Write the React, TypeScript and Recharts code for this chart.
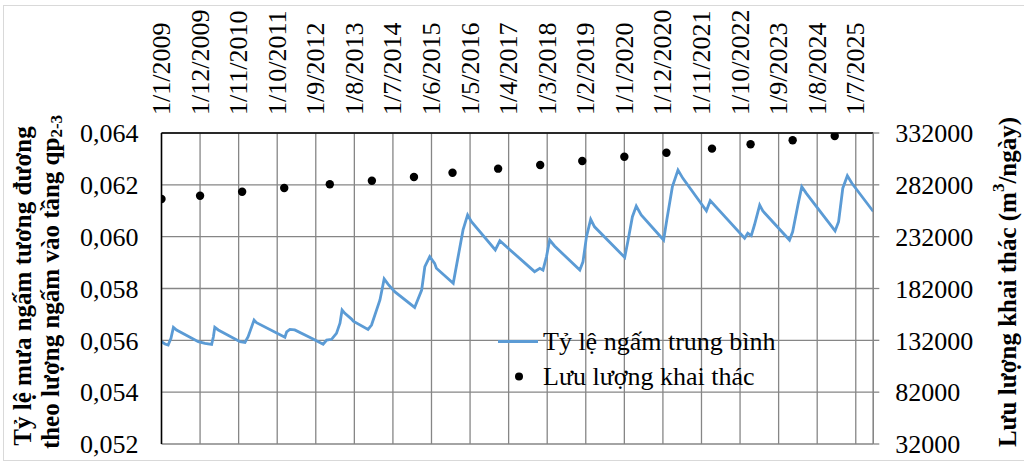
import React from 'react';
import { ComposedChart, Line, Scatter, XAxis, YAxis, CartesianGrid, Legend } from 'recharts';

const FONT = '"Liberation Serif", "Times New Roman", serif';
const BLUE = '#5B9BD5';
const GRID = '#868686';
const FS = 26;
const TITLE_FS = 25;

// Month index (0 = 1/1/2009) and value of the vertices of the average infiltration ratio line
const lineMonths = [
  0, 1.0, 1.9, 2.7, 3.4, 4.3, 10.5, 12.4, 14.3, 14.8, 15.2, 16.2, 22.4, 23.8, 24.7, 26.4, 27.1,
  35.2, 35.7, 36.6, 38.0, 42.8, 46.1, 47.1, 48.5, 49.9, 50.9, 51.5, 52.3, 54.2, 54.7, 58.9, 59.9,
  62.3, 63.5, 64.6, 66.5, 72.2, 74.2, 75.1, 76.5, 77.9, 78.4, 83.2, 84.6, 86.0, 87.3, 88.4, 95.2,
  96.5, 106.4, 107.9, 108.8, 109.8, 110.7, 112.1, 119.3, 120.2, 121.2, 122.4, 123.5, 132.1, 133.0,
  134.3, 135.4, 136.8, 143.2, 144.1, 145.7, 147.3, 148.7, 155.4, 156.5, 166.3, 167.2, 168.2, 169.1,
  170.6, 171.5, 179.1, 180.0, 181.5, 182.6, 183.9, 192.1, 193.1, 194.3, 195.6, 196.9, 203,
];
const lineValues = [
  0.05595, 0.05586, 0.05582, 0.05608, 0.0565, 0.0564, 0.05595, 0.05588, 0.05584, 0.05614, 0.0565, 0.0564, 0.05595, 0.05592, 0.05614, 0.05678, 0.05668,
  0.05612, 0.05633, 0.05642, 0.0564, 0.05608, 0.05585, 0.05601, 0.05604, 0.05627, 0.05666, 0.05717, 0.05704, 0.05682, 0.05674, 0.05642, 0.05659,
  0.05756, 0.05837, 0.05817, 0.05788, 0.05727, 0.05794, 0.05884, 0.05923, 0.05897, 0.05878, 0.0582, 0.05923, 0.06026, 0.06084, 0.06058, 0.05949,
  0.05984, 0.05865, 0.05878, 0.05871, 0.05923, 0.05987, 0.05964, 0.05871, 0.05903, 0.06, 0.06067, 0.06038, 0.0592, 0.05981,
  0.06077, 0.06118, 0.06084, 0.05987, 0.06064, 0.06193, 0.06257, 0.06225, 0.061, 0.06139, 0.05994, 0.06013, 0.06004, 0.06045,
  0.06122, 0.06099, 0.05987, 0.06019, 0.06122, 0.06193, 0.06167, 0.06022, 0.06058, 0.06187, 0.06235, 0.06206, 0.06097,
];

// Yearly abstraction discharge (m3/day)
const dotMonths = [0, 11, 23, 35, 48, 60, 72, 83, 96, 108, 120, 132, 144, 157, 168, 180, 192];
const dotValues = [
  268300, 271500, 275400, 279000, 282500, 286000, 289600, 293700, 297600, 301100, 305000, 309100,
  313000, 316900, 321100, 325000, 329100,
];

const xTickMonths = [0, 11, 22, 33, 44, 55, 66, 77, 88, 99, 110, 121, 132, 143, 154, 165, 176, 187, 198];
const xTickLabels = [
  '1/1/2009', '1/12/2009', '1/11/2010', '1/10/2011', '1/9/2012', '1/8/2013', '1/7/2014', '1/6/2015',
  '1/5/2016', '1/4/2017', '1/3/2018', '1/2/2019', '1/1/2020', '1/12/2020', '1/11/2021', '1/10/2022',
  '1/9/2023', '1/8/2024', '1/7/2025',
];
const leftTicks = [0.052, 0.054, 0.056, 0.058, 0.06, 0.062, 0.064];
const rightTicks = [32000, 82000, 132000, 182000, 232000, 282000, 332000];

const LINE_NAME = 'Tỷ lệ ngấm trung bình';
const DOT_NAME = 'Lưu lượng khai thác';

const lineData = lineMonths.map((m, i) => ({ m, r: lineValues[i] }));
const dotData = dotMonths.map((m, i) => ({ m, q: dotValues[i] }));

const XTick = ({ x, y, payload }: any) => {
  const idx = xTickMonths.indexOf(payload.value);
  return (
    <text
      x={x}
      y={y}
      transform={`rotate(-90 ${x} ${y})`}
      textAnchor="start"
      dominantBaseline="central"
      fontFamily={FONT}
      fontSize={FS}
      fill="#000"
    >
      {idx >= 0 ? xTickLabels[idx] : ''}
    </text>
  );
};

const LeftTitle = () => (
  <g fontFamily={FONT} fontSize={TITLE_FS} fontWeight="bold" fill="#000">
    <text x={22} y={286} transform="rotate(-90 22 286)" textAnchor="middle" dominantBaseline="central">
      Tỷ lệ mưa ngấm tương đương
    </text>
    <text x={50} y={282} transform="rotate(-90 50 282)" textAnchor="middle" dominantBaseline="central">
      theo lượng ngấm vào tầng qp<tspan dy={6} fontSize={17}>2-3</tspan>
    </text>
  </g>
);

const RightTitle = () => (
  <g fontFamily={FONT} fontSize={TITLE_FS} fontWeight="bold" fill="#000">
    <text x={1007} y={282} transform="rotate(-90 1007 282)" textAnchor="middle" dominantBaseline="central">
      Lưu lượng khai thác (m<tspan dy={-9} fontSize={17}>3</tspan><tspan dy={9}>/ngày)</tspan>
    </text>
  </g>
);

const LegendContent = ({ payload }: any) => {
  const items = [...(payload || [])].sort((a: any, b: any) =>
    (a.value === LINE_NAME ? 0 : 1) - (b.value === LINE_NAME ? 0 : 1)
  );
  return (
    <div style={{ fontFamily: FONT, fontSize: FS, color: '#000' }}>
      {items.map((e: any) => (
        <div key={e.value} style={{ display: 'flex', alignItems: 'center', height: 35 }}>
          <svg width={48} height={35} style={{ flex: 'none' }}>
            {e.value === LINE_NAME ? (
              <line x1={3} x2={43} y1={17.5} y2={17.5} stroke={BLUE} strokeWidth={3} />
            ) : (
              <circle cx={24} cy={17.5} r={4} fill="#000" />
            )}
          </svg>
          <span style={{ lineHeight: '35px', whiteSpace: 'nowrap' }}>{e.value}</span>
        </div>
      ))}
    </div>
  );
};

const Dot = (p: any) => <circle cx={p.cx} cy={p.cy} r={4.2} fill="#000" />;

export default function App() {
  return (
    <div style={{ position: 'fixed', left: 0, top: 0, width: 1024, height: 462, background: '#fff' }}>
      <div
        style={{
          position: 'absolute',
          left: 3,
          top: 5,
          width: 1021,
          height: 456,
          boxSizing: 'border-box',
          border: '1px solid #d9d9d9',
          borderRight: 'none',
        }}
      />
      <ComposedChart
        width={1024}
        height={462}
        margin={{ top: 13, right: 70.7, bottom: 18, left: 101.5 }}
        style={{ position: 'absolute', left: 0, top: 0 }}
      >
        <CartesianGrid yAxisId="left" stroke={GRID} strokeWidth={1.3} />
        <XAxis
          type="number"
          dataKey="m"
          orientation="top"
          domain={[0, 203]}
          ticks={xTickMonths}
          interval={0}
          height={120}
          tickSize={0}
          tickMargin={18}
          tickLine={false}
          axisLine={{ stroke: '#000', strokeWidth: 1.5 }}
          tick={<XTick />}
          allowDataOverflow
        />
        <YAxis
          yAxisId="left"
          domain={[0.052, 0.064]}
          ticks={leftTicks}
          interval={0}
          width={60}
          tickSize={0}
          tickMargin={23}
          tickLine={false}
          axisLine={{ stroke: '#000', strokeWidth: 1.5 }}
          tickFormatter={(v: number) => v.toFixed(3).replace('.', ',')}
          tick={{ fill: '#000', fontSize: FS, fontFamily: FONT }}
          label={<LeftTitle />}
          allowDataOverflow
        />
        <YAxis
          yAxisId="right"
          orientation="right"
          domain={[32000, 332000]}
          ticks={rightTicks}
          interval={0}
          width={80}
          tickSize={6}
          tickMargin={16}
          tickLine={{ stroke: GRID, strokeWidth: 1.3 }}
          axisLine={{ stroke: GRID, strokeWidth: 1.3 }}
          tick={{ fill: '#000', fontSize: FS, fontFamily: FONT }}
          label={<RightTitle />}
          allowDataOverflow
        />
        <Legend
          layout="vertical"
          align="center"
          verticalAlign="middle"
          content={<LegendContent />}
          wrapperStyle={{ left: 495, top: 324, width: 330 }}
        />
        <Line
          yAxisId="left"
          data={lineData}
          dataKey="r"
          name={LINE_NAME}
          type="linear"
          stroke={BLUE}
          strokeWidth={2.8}
          dot={false}
          activeDot={false}
          isAnimationActive={false}
        />
        <Scatter
          yAxisId="right"
          data={dotData}
          dataKey="q"
          name={DOT_NAME}
          fill="#000"
          shape={<Dot />}
          isAnimationActive={false}
        />
      </ComposedChart>
    </div>
  );
}
